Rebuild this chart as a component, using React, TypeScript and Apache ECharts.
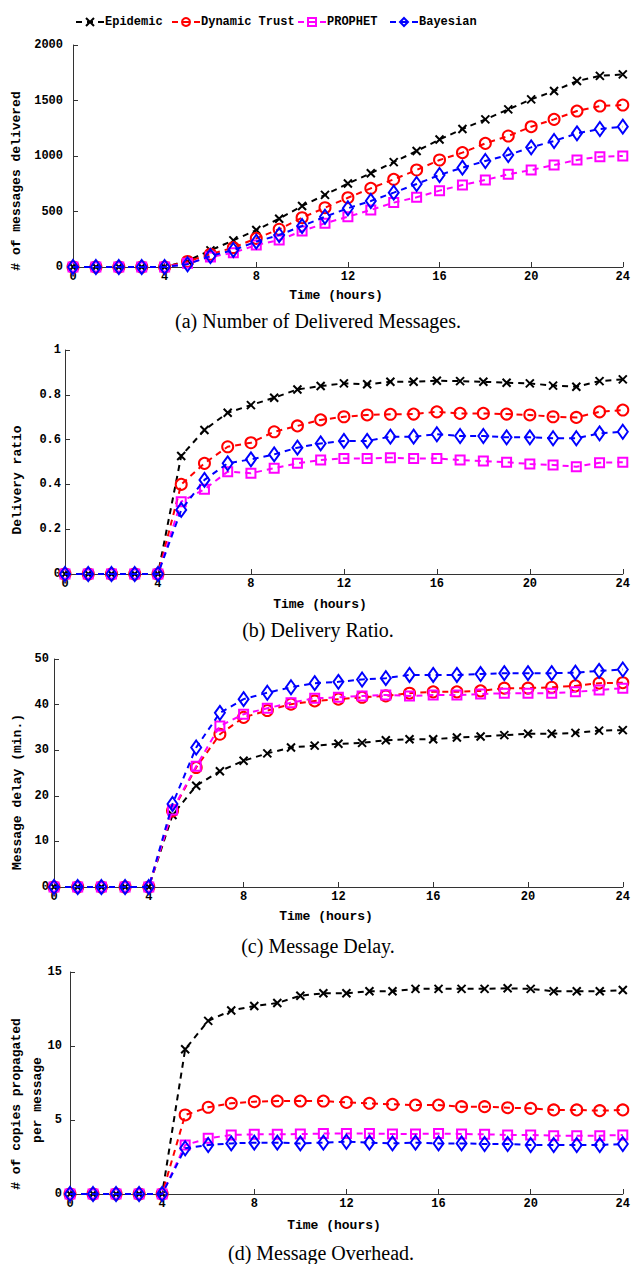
import React, { useEffect, useRef } from "react";
import * as echarts from "echarts";

const hours = [0, 1, 2, 3, 4, 5, 6, 7, 8, 9, 10, 11, 12, 13, 14, 15, 16, 17, 18, 19, 20, 21, 22, 23, 24];
const seriesNames = ["Epidemic", "Dynamic Trust", "PROPHET", "Bayesian"];

// (a) Number of delivered messages
const deliveredEpidemic = [0, 0, 0, 0, 0, 55, 150, 240, 333, 435, 550, 650, 752, 845, 945, 1045, 1148, 1243, 1330, 1420, 1510, 1585, 1675, 1722, 1735];
const deliveredTrust = [0, 0, 0, 0, 0, 50, 115, 175, 258, 340, 444, 534, 624, 709, 790, 874, 964, 1030, 1114, 1180, 1264, 1330, 1405, 1450, 1459];
const deliveredProphet = [0, 0, 0, 0, 0, 33, 90, 128, 198, 243, 324, 394, 453, 514, 580, 628, 688, 739, 784, 835, 874, 919, 964, 994, 1000];
const deliveredBayesian = [0, 0, 0, 0, 0, 25, 99, 153, 228, 288, 369, 453, 529, 595, 670, 748, 829, 895, 955, 1009, 1078, 1135, 1204, 1243, 1264];

// (b) Delivery ratio
const ratioEpidemic = [0, 0, 0, 0, 0, 0.527, 0.643, 0.72, 0.754, 0.787, 0.824, 0.839, 0.851, 0.847, 0.858, 0.858, 0.863, 0.861, 0.858, 0.854, 0.851, 0.841, 0.836, 0.861, 0.869];
const ratioTrust = [0, 0, 0, 0, 0, 0.4, 0.494, 0.568, 0.586, 0.635, 0.661, 0.688, 0.702, 0.71, 0.713, 0.714, 0.724, 0.717, 0.717, 0.714, 0.71, 0.702, 0.699, 0.724, 0.732];
const ratioProphet = [0, 0, 0, 0, 0, 0.323, 0.378, 0.457, 0.45, 0.472, 0.494, 0.509, 0.516, 0.516, 0.519, 0.516, 0.516, 0.509, 0.504, 0.499, 0.491, 0.487, 0.479, 0.497, 0.499];
const ratioBayesian = [0, 0, 0, 0, 0, 0.286, 0.42, 0.494, 0.512, 0.534, 0.564, 0.583, 0.594, 0.594, 0.613, 0.613, 0.624, 0.616, 0.616, 0.61, 0.61, 0.606, 0.606, 0.628, 0.635];

// (c) Message delay (min.)
const delayEpidemic = [0, 0, 0, 0, 0, 15.8, 22.2, 25.4, 27.7, 29.3, 30.6, 31.0, 31.4, 31.6, 32.2, 32.4, 32.4, 32.8, 33.0, 33.3, 33.6, 33.6, 33.8, 34.3, 34.4];
const delayTrust = [0, 0, 0, 0, 0, 16.7, 26.2, 33.5, 37.2, 38.7, 40.1, 40.8, 41.2, 41.6, 41.9, 42.5, 42.8, 42.8, 43.0, 43.6, 43.6, 43.8, 44.1, 44.7, 44.8];
const delayProphet = [0, 0, 0, 0, 0, 16.9, 26.5, 35.3, 37.9, 39.2, 40.4, 41.4, 41.6, 41.9, 42.1, 41.9, 42.1, 42.1, 42.3, 42.5, 42.5, 42.5, 42.8, 43.2, 43.6];
const delayBayesian = [0, 0, 0, 0, 0, 18.2, 30.6, 38.2, 41.2, 42.6, 43.8, 44.7, 45.0, 45.5, 45.8, 46.5, 46.5, 46.5, 46.7, 46.9, 46.9, 46.9, 47.0, 47.4, 47.7];

// (d) Copies propagated per message
const overheadEpidemic = [0, 0, 0, 0, 0, 9.78, 11.7, 12.4, 12.7, 12.9, 13.4, 13.56, 13.56, 13.7, 13.7, 13.86, 13.86, 13.86, 13.86, 13.9, 13.86, 13.7, 13.7, 13.7, 13.78];
const overheadTrust = [0, 0, 0, 0, 0, 5.34, 5.86, 6.13, 6.24, 6.28, 6.28, 6.28, 6.19, 6.13, 6.06, 6.01, 6.01, 5.9, 5.9, 5.83, 5.79, 5.68, 5.68, 5.63, 5.68];
const overheadProphet = [0, 0, 0, 0, 0, 3.31, 3.76, 3.99, 4.03, 4.03, 4.05, 4.08, 4.08, 4.08, 4.06, 4.06, 4.08, 4.06, 4.03, 3.99, 3.99, 3.94, 3.94, 3.94, 3.99];
const overheadBayesian = [0, 0, 0, 0, 0, 3.09, 3.31, 3.42, 3.47, 3.47, 3.42, 3.47, 3.53, 3.47, 3.42, 3.47, 3.42, 3.42, 3.38, 3.38, 3.31, 3.31, 3.31, 3.31, 3.38];

const xTicks = { min: 0, max: 24, interval: 4 };
const yRanges = [
  { min: 0, max: 2000, interval: 500 },
  { min: 0, max: 1, interval: 0.2 },
  { min: 0, max: 50, interval: 10 },
  { min: 0, max: 15, interval: 5 },
];
const captions = [
  "(a) Number of Delivered Messages.",
  "(b) Delivery Ratio.",
  "(c) Message Delay.",
  "(d) Message Overhead.",
];

const panelData = [
  [deliveredEpidemic, deliveredTrust, deliveredProphet, deliveredBayesian],
  [ratioEpidemic, ratioTrust, ratioProphet, ratioBayesian],
  [delayEpidemic, delayTrust, delayProphet, delayBayesian],
  [overheadEpidemic, overheadTrust, overheadProphet, overheadBayesian],
];

const colors = ["#000000", "#ff0000", "#ff00ff", "#0000ff"];
const symbols = ["path://M0 0L10 10M10 0L0 10", "circle", "rect", "diamond"];
const symbolSizes: any[] = [8, 11, 9, [10, 14]];

const grids = [
  { left: 73, right: 6, top: 45, height: 222 },
  { left: 65, right: 7, top: 350, height: 224 },
  { left: 54, right: 7, top: 659, height: 228 },
  { left: 70, right: 6, top: 972, height: 222 },
];
const yLabelMargins = [10, 4, 5, 8];

const MONO = "'Liberation Mono', 'DejaVu Sans Mono', monospace";
const SERIF = "'Liberation Serif', 'Times New Roman', serif";

export default function App() {
  const ref = useRef<HTMLDivElement>(null);

  useEffect(() => {
    if (!ref.current) return;
    const chart = echarts.init(ref.current, undefined, { renderer: "svg" });

    const axisLineStyle = { color: "#333", width: 1 };

    const xAxis = grids.map((_, i) => ({
      type: "value",
      gridIndex: i,
      ...xTicks,
      axisLine: { show: true, onZero: false, lineStyle: axisLineStyle },
      axisTick: { show: true, inside: true, length: 5, lineStyle: axisLineStyle },
      axisLabel: {
        color: "#000",
        fontFamily: MONO,
        fontWeight: "bold",
        fontSize: 12,
        margin: 4,
      },
      splitLine: { show: false },
    }));

    const yAxis = grids.map((_, i) => ({
      type: "value",
      gridIndex: i,
      ...yRanges[i],
      axisLine: { show: true, lineStyle: axisLineStyle },
      axisTick: { show: true, inside: true, length: 5, lineStyle: axisLineStyle },
      axisLabel: {
        color: "#000",
        fontFamily: MONO,
        fontWeight: "bold",
        fontSize: 12,
        margin: yLabelMargins[i],
        formatter: (v: number) => String(Math.round(v * 1000) / 1000),
      },
      splitLine: { show: false },
    }));

    const series: any[] = [];
    panelData.forEach((group, gi) => {
      group.forEach((vals, si) => {
        series.push({
          type: "line",
          name: seriesNames[si],
          xAxisIndex: gi,
          yAxisIndex: gi,
          data: hours.map((h, k) => [h, vals[k]]),
          symbol: symbols[si],
          symbolSize: symbolSizes[si],
          showAllSymbol: true,
          lineStyle: { color: colors[si], width: 2, type: [6, 5] },
          itemStyle: { color: "rgba(0,0,0,0)", borderColor: colors[si], borderWidth: 2 },
          emphasis: { disabled: true },
          z: 2 + si,
        });
      });
    });

    const legendLefts = [70, 166, 292, 384];
    const legend = seriesNames.map((n, i) => ({
      data: [{ name: n, itemStyle: { color: "rgba(0,0,0,0)", borderColor: colors[i], borderWidth: 2 } }],
      left: legendLefts[i],
      top: 11,
      itemWidth: 28,
      itemHeight: 10,
      itemGap: 0,
      selectedMode: false,
      textStyle: { fontFamily: MONO, fontWeight: "bold", fontSize: 12, color: "#000", padding: [0, 0, 0, -4] },
    }));

    const textStyle = (text: string, font: string) => ({ text, font, fill: "#000", align: "center", verticalAlign: "middle" });
    const graphic: any[] = [
      // y axis names
      { type: "text", x: 16, y: 181, rotation: Math.PI / 2, style: textStyle("# of messages delivered", `bold 13px ${MONO}`) },
      { type: "text", x: 17, y: 480, rotation: Math.PI / 2, style: textStyle("Delivery ratio", `bold 13px ${MONO}`) },
      { type: "text", x: 17, y: 792, rotation: Math.PI / 2, style: textStyle("Message delay (min.)", `bold 13px ${MONO}`) },
      { type: "text", x: 16, y: 1104, rotation: Math.PI / 2, style: textStyle("# of copies propagated", `bold 13px ${MONO}`) },
      { type: "text", x: 37, y: 1100, rotation: Math.PI / 2, style: textStyle("per message", `bold 13px ${MONO}`) },
      // x axis names
      { type: "text", x: 336, y: 295, style: textStyle("Time (hours)", `bold 13px ${MONO}`) },
      { type: "text", x: 320, y: 604, style: textStyle("Time (hours)", `bold 13px ${MONO}`) },
      { type: "text", x: 326, y: 916, style: textStyle("Time (hours)", `bold 13px ${MONO}`) },
      { type: "text", x: 334, y: 1225, style: textStyle("Time (hours)", `bold 13px ${MONO}`) },
      // captions
      { type: "text", x: 318, y: 321, style: textStyle(captions[0], `20px ${SERIF}`) },
      { type: "text", x: 318, y: 630, style: textStyle(captions[1], `20px ${SERIF}`) },
      { type: "text", x: 318, y: 946, style: textStyle(captions[2], `20px ${SERIF}`) },
      { type: "text", x: 321, y: 1253, style: textStyle(captions[3], `20px ${SERIF}`) },
    ];

    chart.setOption({
      animation: false,
      backgroundColor: "#ffffff",
      grid: grids,
      xAxis,
      yAxis,
      legend,
      series,
      graphic,
    });

    return () => chart.dispose();
  }, []);

  return <div ref={ref} style={{ position: "absolute", left: 0, top: 0, width: 633, height: 1264 }} />;
}
